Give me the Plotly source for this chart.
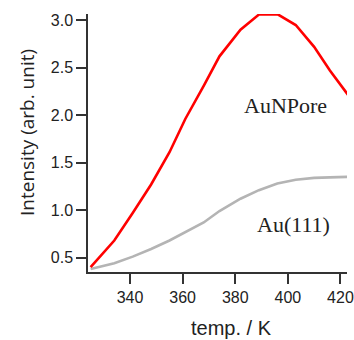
import plotly.graph_objects as go

temps = [325, 334, 341, 348, 355, 361, 368, 374, 382, 389, 396, 403, 410, 416, 423]
aunpore = [0.40, 0.68, 0.97, 1.27, 1.61, 1.96, 2.31, 2.62, 2.90, 3.06, 3.065, 2.95, 2.72, 2.47, 2.21]
au111 = [0.38, 0.44, 0.51, 0.59, 0.68, 0.77, 0.87, 0.99, 1.12, 1.21, 1.28, 1.32, 1.34, 1.345, 1.35]
x_ticks = [340, 360, 380, 400, 420]
y_ticks = [0.5, 1.0, 1.5, 2.0, 2.5, 3.0]

W, H = 354, 340
L, R, T, B = 88, 7, 14, 68
pw, ph = W - L - R, H - T - B

def px(x):
    return (x - L) / pw

def py(y):
    return (H - B - y) / ph

fig = go.Figure()
fig.add_trace(go.Scatter(x=temps, y=au111, mode="lines",
                         line=dict(color="#b4b4b4", width=2.6), cliponaxis=False))
fig.add_trace(go.Scatter(x=temps, y=aunpore, mode="lines",
                         line=dict(color="#ff0000", width=2.6), cliponaxis=False))

axis_common = dict(showgrid=False, zeroline=False, showline=True, linecolor="#333",
                   linewidth=1.5, ticks="outside", ticklen=10, tickwidth=1.5,
                   tickcolor="#333",
                   tickfont=dict(family="Liberation Sans, Arial", size=16, color="#222"))

fig.update_xaxes(range=[324, 422.5], tickvals=x_ticks, **axis_common)
fig.update_yaxes(range=[0.348, 3.066], tickvals=y_ticks, ticktext=["%.1f" % v for v in y_ticks],
                 **axis_common)

fig.update_layout(
    width=W, height=H, margin=dict(l=L, r=R, t=T, b=B, autoexpand=False),
    plot_bgcolor="white", paper_bgcolor="white", showlegend=False,
    annotations=[
        dict(text="AuNPore", xref="paper", yref="paper", x=px(285), y=py(106),
             showarrow=False, xanchor="center", yanchor="middle",
             font=dict(family="Liberation Serif, Times New Roman", size=22, color="#222")),
        dict(text="Au(111)", xref="paper", yref="paper", x=px(293), y=py(224),
             showarrow=False, xanchor="center", yanchor="middle",
             font=dict(family="Liberation Serif, Times New Roman", size=22, color="#222")),
        dict(text="temp. / K", xref="paper", yref="paper", x=px(231), y=py(328),
             showarrow=False, xanchor="center", yanchor="middle",
             font=dict(family="Liberation Sans, Arial", size=20, color="#222")),
        dict(text="Intensity (arb. unit)", xref="paper", yref="paper", x=px(27), y=py(133),
             showarrow=False, xanchor="center", yanchor="middle", textangle=-90,
             font=dict(family="Open Sans", size=19, color="#222")),
    ],
)

fig.write_html("out.html", config={"displayModeBar": False},
               post_script="document.body.style.margin='0';document.body.style.overflow='hidden';")
